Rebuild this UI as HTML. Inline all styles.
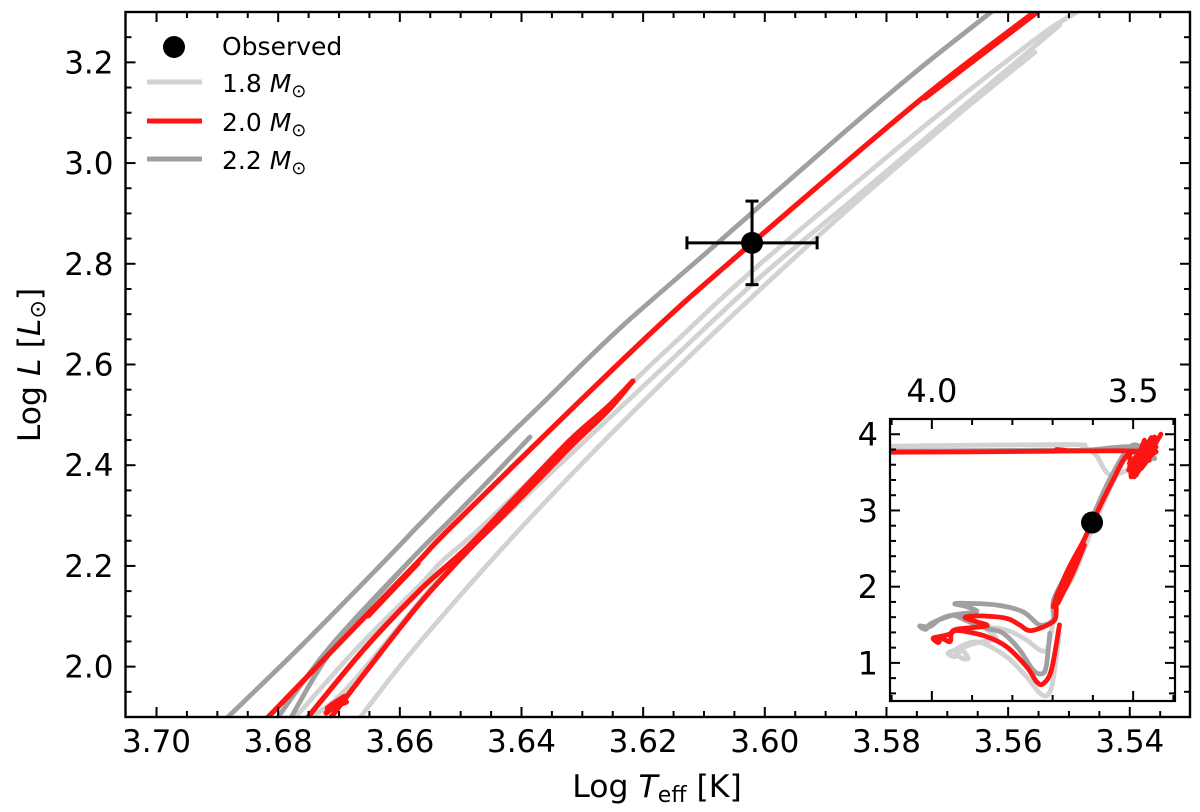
<!DOCTYPE html>
<html lang="en">
<head>
<meta charset="utf-8">
<title>HR diagram</title>
<style>
html,body{margin:0;padding:0;background:#fff;width:1200px;height:812px;overflow:hidden}
svg{display:block}
text{font-family:"DejaVu Sans","Liberation Sans",sans-serif;fill:#000}
</style>
</head>
<body>
<svg id="chart" width="1200" height="812" viewBox="0 0 1200 812" xmlns="http://www.w3.org/2000/svg">
  <defs>
    <clipPath id="main-clip"><rect x="125.5" y="12" width="1064.5" height="705"/></clipPath>
    <clipPath id="inset-clip"><rect x="890" y="419" width="285" height="282"/></clipPath>
  </defs>
  <rect width="1200" height="812" fill="#fff"/>
  <g id="main-tracks" clip-path="url(#main-clip)"></g>
  <g id="main-ticks"></g>
  <g id="main-obs"></g>
  <rect x="125.5" y="12" width="1064.5" height="705" fill="none" stroke="#000" stroke-width="2.4"/>

  <g>
    <circle cx="174" cy="47" r="11" fill="#000"/>
    <text x="222" y="55" font-size="25">Observed</text>
    <line x1="147" x2="202" y1="82" y2="82" stroke="#d2d2d2" stroke-width="5"/>
    <text x="222" y="92" font-size="25">1.8 <tspan font-style="italic">M</tspan><tspan font-size="18" dy="5">⊙</tspan></text>
    <line x1="147" x2="202" y1="121" y2="121" stroke="#ff1414" stroke-width="5"/>
    <text x="222" y="131" font-size="25">2.0 <tspan font-style="italic">M</tspan><tspan font-size="18" dy="5">⊙</tspan></text>
    <line x1="147" x2="202" y1="159" y2="159" stroke="#a0a0a0" stroke-width="5"/>
    <text x="222" y="169" font-size="25">2.2 <tspan font-style="italic">M</tspan><tspan font-size="18" dy="5">⊙</tspan></text>
  </g>

  <text x="657" y="797" font-size="31.5" text-anchor="middle">Log <tspan font-style="italic">T</tspan><tspan font-size="22" dy="5">eff</tspan><tspan dy="-5"> [K]</tspan></text>
  <text transform="translate(40,365) rotate(-90)" font-size="31.5" text-anchor="middle">Log <tspan font-style="italic">L</tspan> [<tspan font-style="italic">L</tspan><tspan font-size="22" dy="5">⊙</tspan><tspan dy="-5">]</tspan></text>

  <g>
    <rect x="890" y="419" width="285" height="282" fill="#fff"/>
    <g id="inset-tracks" clip-path="url(#inset-clip)"></g>
    <g id="inset-ticks"></g>
    <rect x="890" y="419" width="285" height="282" fill="none" stroke="#000" stroke-width="2.2"/>
  </g>
</svg>
<script>
// ---- Observation ----
const obsTeff = 3.6021;
const obsLum = 2.8415;
const obsTeffErr = 0.0107;
const obsLumErr = 0.083;

// ---- Axis ticks ----
const mainXMajor = [3.70, 3.68, 3.66, 3.64, 3.62, 3.60, 3.58, 3.56, 3.54];
const mainXLabels = ['3.70', '3.68', '3.66', '3.64', '3.62', '3.60', '3.58', '3.56', '3.54'];
const mainYMajor = [2.0, 2.2, 2.4, 2.6, 2.8, 3.0, 3.2];
const mainYLabels = ['2.0', '2.2', '2.4', '2.6', '2.8', '3.0', '3.2'];
const insetXMajor = [4.0, 3.5];
const insetXLabels = ['4.0', '3.5'];
const insetXMinor = [4.1, 3.9, 3.8, 3.7, 3.6, 3.4];
const insetYMajor = [1, 2, 3, 4];
const insetYLabels = ['1', '2', '3', '4'];
const insetYMinor = [0.6, 0.8, 1.2, 1.4, 1.6, 1.8, 2.2, 2.4, 2.6, 2.8, 3.2, 3.4, 3.6, 3.8, 4.2];

// ---- Main panel: 1.8 Msun branches ----
const lightATeff = [3.5474, 3.5490, 3.5553, 3.5732, 3.6016, 3.6144, 3.6205, 3.6452, 3.6529, 3.6567, 3.6673, 3.6780];
const lightALum  = [3.314, 3.298, 3.248, 3.079, 2.791, 2.648, 2.579, 2.293, 2.211, 2.162, 2.033, 1.888];
const lightBTeff = [3.5515, 3.5827, 3.6008, 3.6189, 3.6435, 3.6534, 3.6690, 3.6764];
const lightBLum  = [3.274, 2.956, 2.773, 2.569, 2.291, 2.176, 1.953, 1.888];
const lightCTeff = [3.5556, 3.5707, 3.5914, 3.6164, 3.6389, 3.6578, 3.6672];
const lightCLum  = [3.220, 3.071, 2.853, 2.569, 2.291, 2.033, 1.888];

// ---- Main panel: 2.2 Msun branches ----
const greyATeff = [3.6892, 3.6764, 3.6624, 3.6567, 3.6496, 3.6369, 3.6238, 3.6074, 3.5885, 3.5745, 3.5630, 3.5613];
const greyALum  = [1.889, 2.039, 2.211, 2.283, 2.370, 2.519, 2.672, 2.845, 3.045, 3.188, 3.298, 3.316];
const greyBTeff = [3.6386, 3.6463, 3.6517, 3.6583, 3.6715, 3.6807];
const greyBLum  = [2.456, 2.358, 2.291, 2.211, 2.039, 1.888];
const greyCTeff = [3.6583, 3.6706, 3.6784];
const greyCLum  = [2.211, 2.043, 1.888];

// ---- Main panel: 2.0 Msun branches ----
const redMainTeff = [3.5540, 3.5559, 3.5745, 3.6021, 3.6200, 3.6504, 3.6572, 3.6710, 3.6826];
const redMainLum  = [3.316, 3.298, 3.125, 2.841, 2.648, 2.291, 2.206, 2.033, 1.888];
const redTopTeff = [3.5554, 3.5737];
const redTopLum  = [3.298, 3.129];
const redLowTeff = [3.6570, 3.6652];
const redLowLum  = [2.2055, 2.101];
const redATeff = [3.6217, 3.6259, 3.6320, 3.6419, 3.6489, 3.6567, 3.6660, 3.6759];
const redALum  = [2.567, 2.515, 2.450, 2.325, 2.237, 2.152, 2.033, 1.888];
const redBTeff = [3.6217, 3.6259, 3.6320, 3.6419, 3.6489, 3.6567, 3.6654, 3.6720];
const redBLum  = [2.567, 2.507, 2.436, 2.313, 2.229, 2.126, 1.993, 1.888];
const redKnotTeff = [3.6721, 3.6690, 3.6719, 3.6688];
const redKnotLum  = [1.908, 1.941, 1.917, 1.930];

// ---- Inset: full evolutionary tracks ----
const insetLightTeff = [3.683, 3.699, 3.712, 3.732, 3.765, 3.815, 3.873, 3.910, 3.943, 3.960, 3.943, 3.926, 3.910, 3.926, 3.939, 3.906, 3.873, 3.840, 3.864, 3.815, 3.765, 3.732, 3.712, 3.699, 3.687, 3.650, 3.596, 3.546, 3.501, 3.447, 3.484, 3.555, 3.592, 3.625, 3.666, 4.112];
const insetLightLum  = [1.389, 0.777, 0.581, 0.603, 0.821, 1.083, 1.258, 1.258, 1.170, 1.127, 1.083, 1.162, 1.061, 1.061, 1.148, 1.236, 1.279, 1.323, 1.454, 1.432, 1.301, 1.170, 1.192, 1.541, 1.825, 2.131, 2.830, 3.419, 3.790, 3.703, 3.616, 3.463, 3.725, 3.834, 3.865, 3.843];
const insetGreyTeff = [3.707, 3.716, 3.728, 3.749, 3.782, 3.823, 3.864, 3.914, 3.947, 3.980, 4.005, 4.030, 4.015, 4.001, 3.947, 3.889, 3.914, 3.943, 3.922, 3.840, 3.774, 3.732, 3.699, 3.699, 3.691, 3.625, 3.604, 3.555, 3.501, 3.447, 3.501, 3.617, 3.716, 4.112];
const insetGreyLum  = [1.389, 0.952, 0.856, 0.908, 1.170, 1.389, 1.454, 1.555, 1.624, 1.572, 1.476, 1.485, 1.441, 1.520, 1.629, 1.672, 1.738, 1.773, 1.782, 1.760, 1.672, 1.498, 1.563, 1.738, 1.913, 2.568, 2.873, 3.441, 3.856, 3.681, 3.834, 3.790, 3.790, 3.777];
const insetRedTeff = [3.683, 3.703, 3.724, 3.740, 3.765, 3.815, 3.864, 3.931, 3.951, 3.955, 3.976, 3.984, 3.997, 3.980, 3.955, 3.939, 3.864, 3.889, 3.918, 3.881, 3.815, 3.782, 3.753, 3.699, 3.691, 3.691, 3.658, 3.602, 3.550, 3.509, 3.443, 3.517, 3.617, 3.683, 3.691, 3.699, 4.112];
const insetRedLum  = [1.498, 0.908, 0.725, 0.755, 0.952, 1.214, 1.345, 1.424, 1.389, 1.279, 1.323, 1.266, 1.323, 1.345, 1.380, 1.441, 1.485, 1.541, 1.598, 1.616, 1.585, 1.498, 1.424, 1.541, 1.694, 1.869, 2.218, 2.838, 3.397, 3.747, 3.769, 3.782, 3.782, 3.782, 3.800, 3.777, 3.764];
const insetRedClumpTeff = [3.509, 3.505, 3.472, 3.501, 3.455, 3.493, 3.431, 3.480, 3.447, 3.509, 3.443, 3.497, 3.464, 3.493, 3.460, 3.501, 3.468, 3.511, 3.464, 3.505, 3.451, 3.501, 3.443, 3.497, 3.476, 3.509, 3.447, 3.488, 3.460];
const insetRedClumpLum  = [3.747, 3.441, 3.921, 3.528, 3.956, 3.463, 4.000, 3.550, 3.782, 3.572, 3.769, 3.659, 3.878, 3.572, 3.812, 3.485, 3.725, 3.528, 3.856, 3.476, 3.921, 3.659, 3.834, 3.441, 3.769, 3.616, 3.965, 3.703, 3.659];
const insetRedTrunkTeff = [3.699, 3.666, 3.629];
const insetRedTrunkLum  = [1.738, 2.175, 2.546];
const insetRedTrunk2Teff = [3.687, 3.650, 3.621];
const insetRedTrunk2Lum  = [1.782, 2.175, 2.546];

// ---- Axis functions ----
const mainX = t => 125.5 + (3.7051 - t) / 0.175 * 1064.5;
const mainY = l => 717 - (l - 1.9) / 1.4 * 705;
const insetX = t => 890 + (4.104 - t) / 0.708 * 285;
const insetY = l => 701 - (l - 0.5) / 3.7 * 282;

const NS = 'http://www.w3.org/2000/svg';
const LIGHT = '#d2d2d2', GREY = '#a0a0a0', RED = '#ff1414';

function drawTrack(parent, xs, ys, sx, sy, color, width, smooth) {
  const p = xs.map((t, i) => [sx(t), sy(ys[i])]);
  let d = 'M' + p[0][0].toFixed(1) + ' ' + p[0][1].toFixed(1);
  for (let i = 0; i < p.length - 1; i++) {
    if (smooth) {
      const a = p[Math.max(i - 1, 0)], b = p[i], c = p[i + 1], e = p[Math.min(i + 2, p.length - 1)];
      const c1x = b[0] + (c[0] - a[0]) / 6, c1y = b[1] + (c[1] - a[1]) / 6;
      const c2x = c[0] - (e[0] - b[0]) / 6, c2y = c[1] - (e[1] - b[1]) / 6;
      d += 'C' + c1x.toFixed(1) + ' ' + c1y.toFixed(1) + ' ' + c2x.toFixed(1) + ' ' + c2y.toFixed(1) + ' ' + c[0].toFixed(1) + ' ' + c[1].toFixed(1);
    } else {
      d += 'L' + p[i + 1][0].toFixed(1) + ' ' + p[i + 1][1].toFixed(1);
    }
  }
  const el = document.createElementNS(NS, 'path');
  el.setAttribute('d', d);
  el.setAttribute('fill', 'none');
  el.setAttribute('stroke', color);
  el.setAttribute('stroke-width', width);
  el.setAttribute('stroke-linejoin', 'round');
  el.setAttribute('stroke-linecap', 'round');
  parent.appendChild(el);
  return el;
}
function drawLine(parent, x1, y1, x2, y2, w) {
  const el = document.createElementNS(NS, 'line');
  el.setAttribute('x1', x1);
  el.setAttribute('y1', y1);
  el.setAttribute('x2', x2);
  el.setAttribute('y2', y2);
  el.setAttribute('stroke', '#000');
  el.setAttribute('stroke-width', w);
  parent.appendChild(el);
  return el;
}
function drawText(parent, x, y, str, anchor, size) {
  const el = document.createElementNS(NS, 'text');
  el.setAttribute('x', x);
  el.setAttribute('y', y);
  el.setAttribute('text-anchor', anchor);
  el.setAttribute('font-size', size);
  el.textContent = str;
  parent.appendChild(el);
  return el;
}
function nameTrack(el, name) {
  
  
}

// ---- Main tracks ----
const mt = document.getElementById('main-tracks');
const mainSeries = [
  [lightATeff, lightALum, LIGHT, 4.8, 'track-1-8-branch-a'],
  [lightBTeff, lightBLum, LIGHT, 4.8, 'track-1-8-branch-b'],
  [lightCTeff, lightCLum, LIGHT, 4.8, 'track-1-8-branch-c'],
  [greyATeff, greyALum, GREY, 4.8, 'track-2-2-branch-a'],
  [greyBTeff, greyBLum, GREY, 4.8, 'track-2-2-branch-b'],
  [greyCTeff, greyCLum, GREY, 4.8, 'track-2-2-branch-c'],
  [redMainTeff, redMainLum, RED, 5.2, 'track-2-0-main'],
  [redTopTeff, redTopLum, RED, 5.2, 'track-2-0-top'],
  [redLowTeff, redLowLum, RED, 5.2, 'track-2-0-low'],
  [redATeff, redALum, RED, 5.2, 'track-2-0-branch-a'],
  [redBTeff, redBLum, RED, 5.2, 'track-2-0-branch-b'],
  [redKnotTeff, redKnotLum, RED, 5.4, 'track-2-0-knot']
];
mainSeries.forEach(s => {
  const el = drawTrack(mt, s[0], s[1], mainX, mainY, s[2], s[3], true);
  nameTrack(el, s[4]);
});

// ---- Main ticks ----
const mtk = document.getElementById('main-ticks');
for (let i = 0; i <= 35; i++) {
  const t = 3.705 - i * 0.005;
  const isMajor = mainXMajor.some(m => Math.abs(m - t) < 1e-6);
  const len = isMajor ? 10 : 6;
  const x = mainX(t);
  if (x < 127 || x > 1188) continue;
  drawLine(mtk, x, 717, x, 717 - len, 2);
  drawLine(mtk, x, 12, x, 12 + len, 2);
}
for (let i = 0; i <= 28; i++) {
  const l = 1.9 + i * 0.05;
  const isMajor = mainYMajor.some(m => Math.abs(m - l) < 1e-6);
  const len = isMajor ? 10 : 6;
  const y = mainY(l);
  if (y < 14 || y > 715) continue;
  drawLine(mtk, 125.5, y, 125.5 + len, y, 2);
  drawLine(mtk, 1190, y, 1190 - len, y, 2);
}
mainXMajor.forEach((t, i) => {
  const el = drawText(mtk, mainX(t), 752, mainXLabels[i], 'middle', 31);
  
  
});
mainYMajor.forEach((l, i) => {
  const el = drawText(mtk, 113.5, mainY(l) + 11, mainYLabels[i], 'end', 31);
  
  
});

// ---- Observed point ----
const ob = document.getElementById('main-obs');
const ox = mainX(obsTeff), oy = mainY(obsLum);
const xl = mainX(obsTeff + obsTeffErr), xr = mainX(obsTeff - obsTeffErr);
const yt = mainY(obsLum + obsLumErr), yb = mainY(obsLum - obsLumErr);
const errH = drawLine(ob, xl, oy, xr, oy, 3);


const errV = drawLine(ob, ox, yt, ox, yb, 3);


drawLine(ob, xl, oy - 6.5, xl, oy + 6.5, 3);
drawLine(ob, xr, oy - 6.5, xr, oy + 6.5, 3);
drawLine(ob, ox - 6.5, yt, ox + 6.5, yt, 3);
drawLine(ob, ox - 6.5, yb, ox + 6.5, yb, 3);
const mainDot = document.createElementNS(NS, 'circle');
mainDot.setAttribute('cx', ox);
mainDot.setAttribute('cy', oy);
mainDot.setAttribute('r', 11);
mainDot.setAttribute('fill', '#000');


ob.appendChild(mainDot);

// ---- Inset ----
const it = document.getElementById('inset-tracks');
const insetSeries = [
  [insetLightTeff, insetLightLum, LIGHT, 4.8, 'inset-track-1-8', true],
  [insetGreyTeff, insetGreyLum, GREY, 4.8, 'inset-track-2-2', true],
  [insetRedTeff, insetRedLum, RED, 4.8, 'inset-track-2-0', true],
  [insetRedClumpTeff, insetRedClumpLum, RED, 4.8, 'inset-track-2-0-clump', false],
  [insetRedTrunkTeff, insetRedTrunkLum, RED, 4.8, 'inset-track-2-0-trunk-left', true],
  [insetRedTrunk2Teff, insetRedTrunk2Lum, RED, 4.8, 'inset-track-2-0-trunk-right', true]
];
insetSeries.forEach(s => {
  const el = drawTrack(it, s[0], s[1], insetX, insetY, s[2], s[3], s[5]);
  nameTrack(el, s[4]);
});
const insetDot = document.createElementNS(NS, 'circle');
insetDot.setAttribute('cx', insetX(obsTeff));
insetDot.setAttribute('cy', insetY(obsLum));
insetDot.setAttribute('r', 11);
insetDot.setAttribute('fill', '#000');


it.appendChild(insetDot);

const itk = document.getElementById('inset-ticks');
insetXMajor.forEach((t, i) => {
  const x = insetX(t);
  drawLine(itk, x, 701, x, 691, 2);
  drawLine(itk, x, 419, x, 429, 2);
  const el = drawText(itk, x, 402, insetXLabels[i], 'middle', 32);
  
  
});
insetXMinor.forEach(t => {
  const x = insetX(t);
  drawLine(itk, x, 701, x, 695, 2);
  drawLine(itk, x, 419, x, 425, 2);
});
insetYMajor.forEach((l, i) => {
  const y = insetY(l);
  drawLine(itk, 890, y, 900, y, 2);
  drawLine(itk, 1175, y, 1165, y, 2);
  const el = drawText(itk, 878, y + 11.5, insetYLabels[i], 'end', 32);
  
  
});
insetYMinor.forEach(l => {
  const y = insetY(l);
  drawLine(itk, 890, y, 896, y, 2);
  drawLine(itk, 1175, y, 1169, y, 2);
});
</script>
</body>
</html>
